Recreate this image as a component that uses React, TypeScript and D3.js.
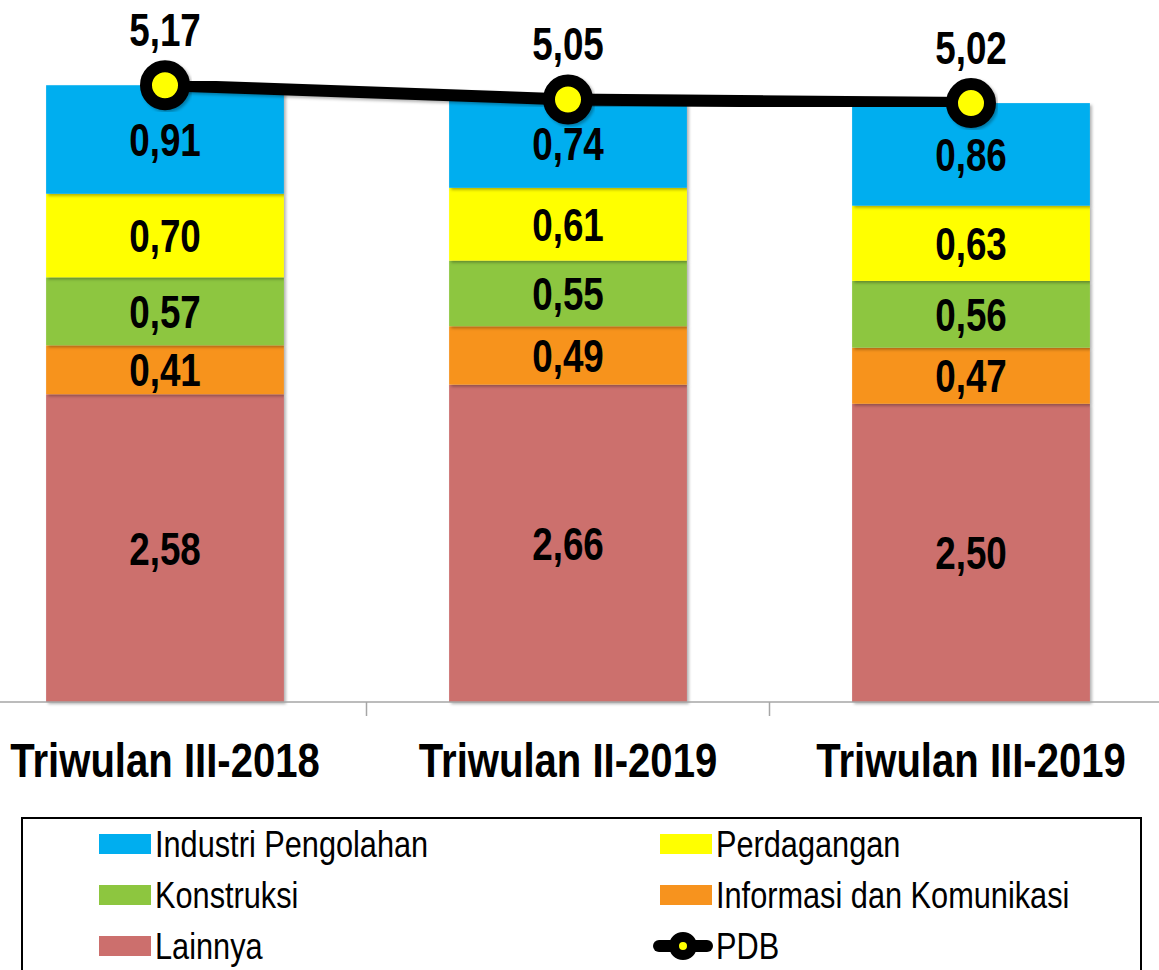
import React, { useEffect, useRef } from 'react';
import * as d3 from 'd3';

const categories = ['Triwulan III-2018', 'Triwulan II-2019', 'Triwulan III-2019'];
const seriesNames = ['Lainnya', 'Informasi dan Komunikasi', 'Konstruksi', 'Perdagangan', 'Industri Pengolahan'];
const seriesColors = ['#CC6F6D', '#F7931E', '#8DC63F', '#FFFF00', '#00AEEF'];
const lainnya = [2.58, 2.66, 2.5];
const infokom = [0.41, 0.49, 0.47];
const konstruksi = [0.57, 0.55, 0.56];
const perdagangan = [0.7, 0.61, 0.63];
const industri = [0.91, 0.74, 0.86];
const pdb = [5.17, 5.05, 5.02];

// legend order, as in the picture (two columns)
const legendOrder = ['Industri Pengolahan', 'Perdagangan', 'Konstruksi', 'Informasi dan Komunikasi', 'Lainnya', 'PDB'];

const fmt = (v: number) => v.toFixed(2).replace('.', ',');

const App = () => {
  const svgRef = useRef<SVGSVGElement>(null);

  useEffect(() => {
    const width = 1159;
    const height = 970;
    const baseY = 702;
    // no narrow font installed, so squeeze Liberation Sans horizontally
    const font = '"Liberation Sans Narrow", "Arial Narrow", "Liberation Sans", Arial, sans-serif';
    const squeeze = (x: number, y: number, s: number) => `translate(${x},${y}) scale(${s},1)`;

    const svg = d3.select(svgRef.current);
    svg.selectAll('*').remove();
    svg.attr('width', width).attr('height', height);

    const defs = svg.append('defs');
    const sh = defs.append('filter').attr('id', 'shadow').attr('x', '-20%').attr('y', '-20%').attr('width', '140%').attr('height', '140%');
    sh.append('feDropShadow').attr('dx', 2).attr('dy', 2).attr('stdDeviation', 1.5).attr('flood-color', '#000').attr('flood-opacity', 0.3);

    const x = d3.scaleBand().domain(categories).range([-36.5, 1172.5]).padding(0);
    const barW = x.bandwidth() * 0.59;
    const cx = (c: string) => (x(c) as number) + x.bandwidth() / 2;

    const y = d3.scaleLinear().domain([0, 6]).range([baseY, baseY - 6 * 119.3]);

    // stacked data
    const rows = categories.map((c, i) => ({
      cat: c,
      Lainnya: lainnya[i],
      'Informasi dan Komunikasi': infokom[i],
      Konstruksi: konstruksi[i],
      Perdagangan: perdagangan[i],
      'Industri Pengolahan': industri[i],
    }));
    const stack = d3.stack<any>().keys(seriesNames)(rows);
    const color = d3.scaleOrdinal<string, string>().domain(seriesNames).range(seriesColors);

    // bars
    const layers = svg.append('g').selectAll('g')
      .data(stack)
      .join('g')
      .attr('fill', d => color(d.key));

    layers.selectAll('rect')
      .data(d => d)
      .join('rect')
      .attr('x', d => cx(d.data.cat) - barW / 2)
      .attr('width', barW)
      .attr('y', d => y(d[1]))
      .attr('height', d => y(d[0]) - y(d[1]))
      .attr('filter', 'url(#shadow)');

    // segment labels
    layers.selectAll('text')
      .data(d => d)
      .join('text')
      .attr('transform', d => squeeze(cx(d.data.cat), (y(d[0]) + y(d[1])) / 2, 0.8))
      .attr('dy', '0.36em')
      .attr('text-anchor', 'middle')
      .attr('fill', '#000')
      .style('font-family', font)
      .style('font-weight', 'bold')
      .style('font-size', '46px')
      .text(d => fmt(d[1] - d[0]));

    // axis
    const axis = svg.append('g');
    axis.append('line')
      .attr('x1', 0).attr('x2', width)
      .attr('y1', baseY).attr('y2', baseY)
      .attr('stroke', '#A6A6A6').attr('stroke-width', 1.5);
    axis.selectAll('line.tick')
      .data(categories.slice(1))
      .join('line')
      .attr('class', 'tick')
      .attr('x1', d => x(d) as number).attr('x2', d => x(d) as number)
      .attr('y1', baseY).attr('y2', baseY + 14)
      .attr('stroke', '#A6A6A6').attr('stroke-width', 1.5);
    axis.selectAll('text')
      .data(categories)
      .join('text')
      .attr('transform', d => squeeze(cx(d), 777, 0.835))
      .attr('text-anchor', 'middle')
      .style('font-family', font)
      .style('font-weight', 'bold')
      .style('font-size', '48px')
      .text(d => d);

    // PDB line
    const line = d3.line<number>()
      .x((d, i) => cx(categories[i]))
      .y(d => y(d));
    svg.append('path')
      .datum(pdb)
      .attr('d', line)
      .attr('fill', 'none')
      .attr('stroke', '#000')
      .attr('stroke-width', 12)
      .attr('filter', 'url(#shadow)');
    svg.append('g').selectAll('circle')
      .data(pdb)
      .join('circle')
      .attr('cx', (d, i) => cx(categories[i]))
      .attr('cy', d => y(d))
      .attr('r', 19)
      .attr('fill', '#FFFF00')
      .attr('stroke', '#000')
      .attr('stroke-width', 12)
      .attr('filter', 'url(#shadow)');
    svg.append('g').selectAll('text')
      .data(pdb)
      .join('text')
      .attr('transform', (d, i) => squeeze(cx(categories[i]), y(d) - 56, 0.8))
      .attr('dy', '0.36em')
      .attr('text-anchor', 'middle')
      .style('font-family', font)
      .style('font-weight', 'bold')
      .style('font-size', '46px')
      .text(d => fmt(d));

    // legend
    const legend = svg.append('g');
    legend.append('rect')
      .attr('x', 22).attr('y', 818)
      .attr('width', 1119).attr('height', 200)
      .attr('fill', 'none')
      .attr('stroke', '#000')
      .attr('stroke-width', 2);

    const items = legend.selectAll('g')
      .data(legendOrder)
      .join('g')
      .attr('transform', (d, i) => `translate(${i % 2 === 0 ? 99 : 660},${844 + Math.floor(i / 2) * 51})`);

    items.filter(d => d !== 'PDB')
      .append('rect')
      .attr('x', 0).attr('y', -10)
      .attr('width', 52).attr('height', 20)
      .attr('fill', d => color(d));

    const pdbItem = items.filter(d => d === 'PDB');
    pdbItem.append('line')
      .attr('x1', -1).attr('x2', 47).attr('y1', 0).attr('y2', 0)
      .attr('stroke', '#000').attr('stroke-width', 12).attr('stroke-linecap', 'round');
    pdbItem.append('circle')
      .attr('cx', 23).attr('cy', 0).attr('r', 9)
      .attr('fill', '#FFFF00').attr('stroke', '#000').attr('stroke-width', 10);

    items.append('text')
      .attr('transform', squeeze(56, 0, 0.83))
      .attr('dy', '0.36em')
      .style('font-family', font)
      .style('font-size', '37px')
      .text(d => d);
  }, []);

  return (
    <div style={{ position: 'absolute', left: 0, top: 0 }}>
      <svg ref={svgRef} style={{ display: 'block' }}></svg>
    </div>
  );
};

export default App;
